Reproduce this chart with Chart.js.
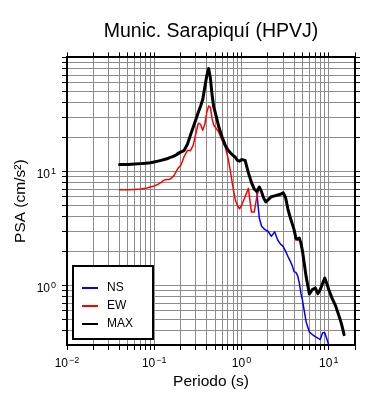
<!DOCTYPE html>
<html>
<head>
<meta charset="utf-8">
<script src="https://cdn.jsdelivr.net/npm/chart.js@4.4.1/dist/chart.umd.min.js"></script>
<style>
  html, body { margin: 0; padding: 0; background: #fff; }
  #wrap { width: 390px; height: 400px; position: relative; }
</style>
</head>
<body>
<div id="wrap"><canvas id="psaChart"></canvas></div>
<script>
// Periodos (s) y valores PSA (cm/s2) por componente
const periodos = [0.04, 0.05, 0.06, 0.07, 0.08, 0.09, 0.1, 0.11, 0.12, 0.13, 0.14, 0.15, 0.16, 0.17, 0.18, 0.19, 0.2,
  0.21, 0.22, 0.24, 0.26, 0.28, 0.3, 0.32, 0.34, 0.36, 0.38, 0.4, 0.42, 0.44, 0.46, 0.48, 0.5,
  0.55, 0.6, 0.65, 0.7, 0.75, 0.8, 0.85, 0.9, 0.95, 1.0,
  1.1, 1.2, 1.3, 1.4, 1.5, 1.6, 1.7, 1.8, 1.9, 2.0,
  2.2, 2.4, 2.6, 2.8, 3.0, 3.2, 3.4, 3.6, 3.8, 4.0, 4.2, 4.4, 4.6, 4.8, 5.0,
  5.5, 6.0, 6.5, 7.0, 7.5, 8.0, 8.5, 9.0, 9.5, 10, 11, 12, 13, 14, 15];

const psaNS = [11.5, 11.5, 11.6, 11.7, 11.8, 11.9, 12.1, 12.3, 12.5, 12.7, 12.9, 13.2, 13.4, 13.7, 13.9, 14.1, 14.6,
  15.0, 15.3, 17.3, 20.8, 24.5, 28.5, 33, 37.5, 43, 55, 69, 80, 66, 47, 37, 33,
  24.0, 19.4, 16.8, 15.4, 14.5, 13.8, 13.3, 12.5, 12.3, 12.7,
  12.5, 9.7, 8.0, 7.0, 6.5, 3.9, 3.3, 3.15, 3.05, 3.0,
  2.7, 2.95, 2.5, 2.3, 2.2, 2.0, 1.8, 1.65, 1.5, 1.32, 1.3, 1.22, 1.05, 0.85, 0.74,
  0.48, 0.39, 0.37, 0.355, 0.345, 0.335, 0.385, 0.385, 0.34, 0.3, 0.26, 0.23, 0.21, 0.19, 0.17];

const psaEW = [6.9, 6.9, 6.95, 7.0, 7.1, 7.3, 7.45, 7.7, 8.0, 8.4, 8.5, 8.5, 8.8, 9.3, 10.1, 10.8, 11.2,
  12.2, 13.5, 15.3, 15.2, 17.0, 21.5, 26.5, 25.8, 23, 26, 33, 37.5, 36.5, 29, 25.5, 24.5,
  22, 18.7, 16.4, 13.2, 9.8, 7.2, 5.6, 5.0, 4.7, 5.0,
  6.0, 7.1, 4.4, 4.4, 6.0, 7.25, 6.6, 5.8, 5.4, 5.6,
  6.0, 6.1, 6.2, 6.3, 6.5, 5.9, 4.7, 4.0, 3.5, 3.05, 2.5, 2.5, 2.6, 2.35, 2.0,
  1.2, 0.84, 0.92, 0.93, 0.83, 0.9, 1.04, 1.16, 1.04, 0.9, 0.75, 0.66, 0.55, 0.46, 0.365];

const psaMAX = [11.5, 11.5, 11.6, 11.7, 11.8, 11.9, 12.1, 12.3, 12.5, 12.7, 12.9, 13.2, 13.4, 13.7, 14.0, 14.5, 14.8,
  15.0, 15.3, 17.3, 20.8, 24.5, 28.5, 33, 37.5, 43, 55, 69, 80, 66, 47, 37, 33,
  24.5, 20, 17, 15.4, 14.5, 13.8, 13.3, 12.5, 12.3, 12.7,
  12.5, 9.7, 8.0, 7.0, 6.7, 7.3, 6.6, 5.8, 5.4, 5.6,
  6.0, 6.1, 6.2, 6.3, 6.5, 5.9, 4.7, 4.0, 3.5, 3.1, 2.6, 2.55, 2.6, 2.35, 2.0,
  1.2, 0.84, 0.92, 0.95, 0.85, 0.92, 1.04, 1.16, 1.04, 0.92, 0.76, 0.66, 0.55, 0.46, 0.37];

// Ticks (cada 1..9 x 10^n) y etiquetas de potencias de diez
const xTicks = [0.01, 0.02, 0.03, 0.04, 0.05, 0.06, 0.07, 0.08, 0.09,
  0.1, 0.2, 0.3, 0.4, 0.5, 0.6, 0.7, 0.8, 0.9,
  1, 2, 3, 4, 5, 6, 7, 8, 9, 10, 20];
const xLabelValues = [0.01, 0.1, 1, 10];
const xLabelExps = ['\u22122', '\u22121', '0', '1'];

const yTicks = [0.4, 0.5, 0.6, 0.7, 0.8, 0.9,
  1, 2, 3, 4, 5, 6, 7, 8, 9,
  10, 20, 30, 40, 50, 60, 70, 80, 90, 100];
const yLabelValues = [1, 10];
const yLabelExps = ['0', '1'];

const FONT = '"Liberation Sans", Arial, Helvetica, sans-serif';

function puntos(valores) {
    return periodos.map((t, i) => ({ x: t, y: valores[i] }));
}

// Etiquetas 10^n con exponente elevado
const etiquetasPotencia = {
    id: 'etiquetasPotencia',
    afterDraw(chart) {
        const ctx = chart.ctx;
        const sx = chart.scales.x, sy = chart.scales.y;
        ctx.save();
        ctx.fillStyle = '#000';
        ctx.textBaseline = 'alphabetic';
        ctx.textAlign = 'left';
        const base = '12px ' + FONT, exp = '9px ' + FONT;

        xLabelValues.forEach((v, i) => {
            ctx.font = base;
            const w1 = ctx.measureText('10').width;
            ctx.font = exp;
            const w2 = ctx.measureText(xLabelExps[i]).width;
            const x0 = sx.getPixelForValue(v) - (w1 + w2 + 1) / 2;
            const yb = sx.top + 22;
            ctx.font = base;
            ctx.fillText('10', x0, yb);
            ctx.font = exp;
            ctx.fillText(xLabelExps[i], x0 + w1 + 1, yb - 4);
        });

        yLabelValues.forEach((v, i) => {
            ctx.font = exp;
            const w2 = ctx.measureText(yLabelExps[i]).width;
            ctx.font = base;
            const w1 = ctx.measureText('10').width;
            const xr = sy.right - 11;
            const yb = sy.getPixelForValue(v) + 7;
            ctx.fillText('10', xr - w2 - 1 - w1, yb);
            ctx.font = exp;
            ctx.fillText(yLabelExps[i], xr - w2, yb - 4);
        });
        ctx.restore();
    }
};

// Leyenda dentro del area del grafico, abajo a la izquierda
const leyendaInterna = {
    id: 'leyendaInterna',
    afterDatasetsDraw(chart) {
        const ctx = chart.ctx;
        const { left, bottom } = chart.chartArea;
        const x0 = left + 6, y0 = bottom - 79;
        ctx.save();
        ctx.fillStyle = '#fff';
        ctx.fillRect(x0, y0, 80, 73);
        ctx.strokeStyle = '#000';
        ctx.lineWidth = 2;
        ctx.strokeRect(x0, y0, 80, 73);
        ctx.font = '12px ' + FONT;
        ctx.textBaseline = 'middle';
        ctx.textAlign = 'left';
        chart.data.datasets.forEach((ds, i) => {
            const y = y0 + 22 + i * 18;
            ctx.strokeStyle = ds.borderColor;
            ctx.lineWidth = 2;
            ctx.beginPath();
            ctx.moveTo(x0 + 9, y);
            ctx.lineTo(x0 + 25, y);
            ctx.stroke();
            ctx.fillStyle = '#000';
            ctx.fillText(ds.label, x0 + 34, y);
        });
        ctx.restore();
    }
};

function ejeLog(extra) {
    return Object.assign({
        type: 'logarithmic',
        border: { display: true, color: '#000', width: 2 },
        grid: { color: '#8c8c8c', lineWidth: 1, tickColor: '#000', tickLength: 5 },
        ticks: { display: false }
    }, extra);
}

const ctx = document.getElementById('psaChart').getContext('2d');

new Chart(ctx, {
    type: 'line',
    data: {
        datasets: [
            { label: 'NS', data: puntos(psaNS), borderColor: '#0000ff', borderWidth: 1.5, order: 2 },
            { label: 'EW', data: puntos(psaEW), borderColor: '#ff0000', borderWidth: 1.5, order: 1 },
            { label: 'MAX', data: puntos(psaMAX), borderColor: '#000000', borderWidth: 3, order: 0 }
        ]
    },
    options: {
        responsive: true,
        maintainAspectRatio: false,
        animation: false,
        layout: { padding: 0 },
        elements: {
            point: { radius: 0, hoverRadius: 0 },
            line: { tension: 0, fill: false, borderJoinStyle: 'round', borderCapStyle: 'round' }
        },
        plugins: {
            legend: { display: false },
            tooltip: { enabled: false },
            title: {
                display: true,
                text: 'Munic. Sarapiquí (HPVJ)',
                fullSize: false,
                color: '#000',
                font: { family: FONT, size: 19.5, weight: 'normal' },
                padding: { top: 20, bottom: 0 }
            }
        },
        scales: {
            x: ejeLog({
                position: 'bottom',
                min: 0.01,
                max: 20,
                afterBuildTicks: s => { s.ticks = xTicks.map(v => ({ value: v })); },
                afterFit: s => { s.height = 55; },
                title: {
                    display: true,
                    text: 'Periodo (s)',
                    color: '#000',
                    font: { family: FONT, size: 15.5 },
                    padding: { top: 0, bottom: 9 }
                }
            }),
            x2: ejeLog({
                position: 'top',
                min: 0.01,
                max: 20,
                afterBuildTicks: s => { s.ticks = xTicks.map(v => ({ value: v })); },
                afterFit: s => { s.height = 14; },
                grid: { drawOnChartArea: false, tickColor: '#000', tickLength: 5 }
            }),
            y: ejeLog({
                position: 'left',
                min: 0.33,
                max: 100,
                afterBuildTicks: s => { s.ticks = yTicks.map(v => ({ value: v })); },
                afterFit: s => { s.width = 67; },
                title: {
                    display: true,
                    text: 'PSA (cm/s²)',
                    color: '#000',
                    font: { family: FONT, size: 15.5 },
                    padding: { top: 11, bottom: 0 }
                }
            }),
            y2: ejeLog({
                position: 'right',
                min: 0.33,
                max: 100,
                afterBuildTicks: s => { s.ticks = yTicks.map(v => ({ value: v })); },
                afterFit: s => { s.width = 35; },
                grid: { drawOnChartArea: false, tickColor: '#000', tickLength: 5 }
            })
        }
    },
    plugins: [leyendaInterna, etiquetasPotencia]
});
</script>
</body>
</html>
